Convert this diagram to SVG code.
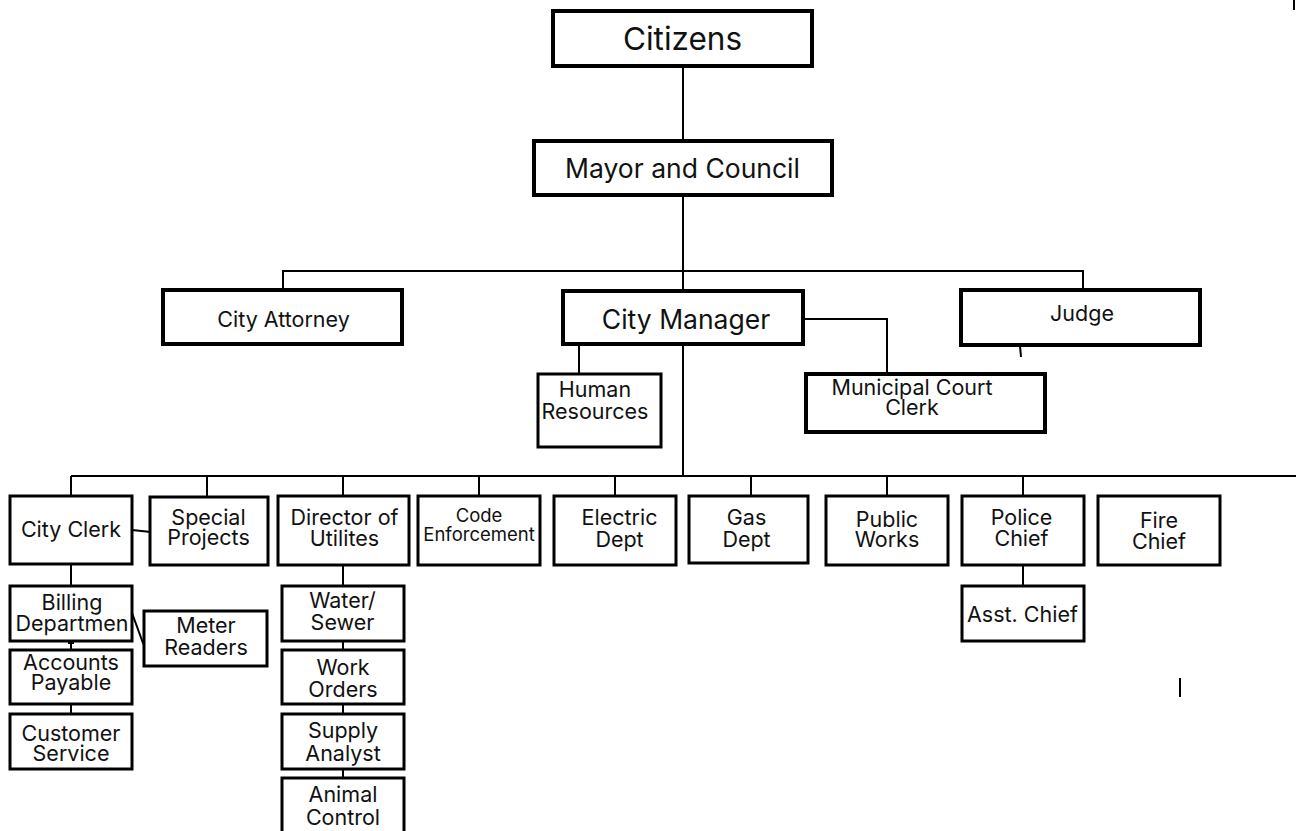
<svg xmlns="http://www.w3.org/2000/svg" width="1296" height="831" viewBox="0 0 1296 831">
<style>
.b4{fill:#fff;stroke:#000;stroke-width:4}
.b3{fill:#fff;stroke:#000;stroke-width:3}
.c{fill:none;stroke:#000;stroke-width:2}
text{font-family:Inter,"Noto Sans","Liberation Sans",sans-serif;fill:#111;text-anchor:middle;font-size:21.5px}
</style>
<rect width="1296" height="831" fill="#fff"/>
<g id="connectors">
<line class="c" x1="683" y1="66" x2="683" y2="141"/>
<line class="c" x1="683" y1="195" x2="683" y2="291"/>
<polyline class="c" points="283,290 283,271 1083,271 1083,290"/>
<polyline class="c" points="803,319 887,319 887,374"/>
<line class="c" x1="1020" y1="346" x2="1021" y2="357"/>
<line class="c" x1="579" y1="344" x2="579" y2="374"/>
<line class="c" x1="683" y1="344" x2="683" y2="476"/>
<line class="c" x1="71" y1="476" x2="1296" y2="476"/>
<line class="c" x1="71" y1="476" x2="71" y2="496"/>
<line class="c" x1="207" y1="476" x2="207" y2="496"/>
<line class="c" x1="343" y1="476" x2="343" y2="496"/>
<line class="c" x1="479" y1="476" x2="479" y2="496"/>
<line class="c" x1="615" y1="476" x2="615" y2="496"/>
<line class="c" x1="751" y1="476" x2="751" y2="496"/>
<line class="c" x1="887" y1="476" x2="887" y2="496"/>
<line class="c" x1="1023" y1="476" x2="1023" y2="496"/>
<line class="c" x1="132" y1="530" x2="151" y2="532"/>
<line class="c" x1="71" y1="564" x2="71" y2="586"/>
<line class="c" x1="343" y1="565" x2="343" y2="586"/>
<line class="c" x1="1023" y1="565" x2="1023" y2="586"/>
<polyline class="c" points="132,613 143,643 146,648"/>
<line class="c" x1="71" y1="641" x2="71" y2="650"/>
<line class="c" x1="68" y1="643" x2="74" y2="643"/>
<line class="c" x1="71" y1="704" x2="71" y2="714"/>
<line class="c" x1="343" y1="641" x2="343" y2="650"/>
<line class="c" x1="343" y1="704" x2="343" y2="714"/>
<line class="c" x1="343" y1="769" x2="343" y2="778"/>
<line class="c" x1="1180" y1="678" x2="1180" y2="697"/>
<line class="c" x1="1294" y1="0" x2="1294" y2="10"/>
</g>
<g id="citizens"><rect class="b4" x="553" y="11" width="259" height="55"/><text x="682.5" y="50" style="font-size:31.5px">Citizens</text></g>
<g id="mayor"><rect class="b4" x="534" y="141" width="298" height="54"/><text x="682.5" y="178" style="font-size:26.5px">Mayor and Council</text></g>
<g id="city-attorney"><rect class="b4" x="163" y="290" width="239" height="54"/><text x="283.5" y="327">City Attorney</text></g>
<g id="city-manager"><rect class="b4" x="563" y="291" width="240" height="53"/><text x="686" y="329" style="font-size:26.5px">City Manager</text></g>
<g id="judge"><rect class="b4" x="961" y="290" width="239" height="55"/><text x="1082" y="321">Judge</text></g>
<g id="human-resources"><rect class="b3" x="538" y="374" width="123" height="73"/><text x="595" y="397">Human</text><text x="595" y="419">Resources</text></g>
<g id="municipal-court-clerk"><rect class="b4" x="806" y="374" width="239" height="58"/><text x="912" y="395">Municipal Court</text><text x="912" y="415">Clerk</text></g>
<g id="city-clerk"><rect class="b3" x="10" y="496" width="122" height="68"/><text x="71" y="537">City Clerk</text></g>
<g id="special-projects"><rect class="b3" x="150" y="497" width="118" height="68"/><text x="208.5" y="525">Special</text><text x="208.5" y="545">Projects</text></g>
<g id="director-utilities"><rect class="b3" x="278" y="496" width="131" height="69"/><text x="344.5" y="525">Director of</text><text x="344.5" y="546">Utilites</text></g>
<g id="code-enforcement"><rect class="b3" x="418" y="496" width="122" height="69"/><text x="479" y="522" style="font-size:18.5px">Code</text><text x="479" y="541" style="font-size:18.5px">Enforcement</text></g>
<g id="electric-dept"><rect class="b3" x="554" y="496" width="122" height="69"/><text x="619.5" y="525">Electric</text><text x="619.5" y="547">Dept</text></g>
<g id="gas-dept"><rect class="b3" x="689" y="496" width="119" height="67"/><text x="746.5" y="525">Gas</text><text x="746.5" y="547">Dept</text></g>
<g id="public-works"><rect class="b3" x="826" y="496" width="122" height="69"/><text x="887" y="527">Public</text><text x="887" y="547">Works</text></g>
<g id="police-chief"><rect class="b3" x="962" y="496" width="122" height="69"/><text x="1021.5" y="525">Police</text><text x="1021.5" y="546">Chief</text></g>
<g id="fire-chief"><rect class="b3" x="1098" y="496" width="122" height="69"/><text x="1159" y="528">Fire</text><text x="1159" y="549">Chief</text></g>
<g id="billing-department"><rect class="b3" x="10" y="586" width="122" height="55"/><text x="72" y="610">Billing</text><text x="72" y="631">Departmen</text></g>
<g id="meter-readers"><rect class="b3" x="144" y="611" width="123" height="55"/><text x="206" y="633">Meter</text><text x="206" y="655">Readers</text></g>
<g id="water-sewer"><rect class="b3" x="282" y="586" width="122" height="55"/><text x="342.5" y="608">Water/</text><text x="342.5" y="630">Sewer</text></g>
<g id="accounts-payable"><rect class="b3" x="10" y="650" width="122" height="54"/><text x="71" y="670">Accounts</text><text x="71" y="690">Payable</text></g>
<g id="customer-service"><rect class="b3" x="10" y="714" width="122" height="55"/><text x="71" y="741">Customer</text><text x="71" y="761">Service</text></g>
<g id="work-orders"><rect class="b3" x="282" y="650" width="122" height="54"/><text x="343" y="675">Work</text><text x="343" y="697">Orders</text></g>
<g id="supply-analyst"><rect class="b3" x="282" y="714" width="122" height="55"/><text x="343" y="738">Supply</text><text x="343" y="761">Analyst</text></g>
<g id="animal-control"><rect class="b3" x="282" y="778" width="122" height="60"/><text x="343" y="802">Animal</text><text x="343" y="825">Control</text></g>
<g id="asst-chief"><rect class="b3" x="962" y="586" width="122" height="55"/><text x="1022.5" y="622">Asst. Chief</text></g>
</svg>
